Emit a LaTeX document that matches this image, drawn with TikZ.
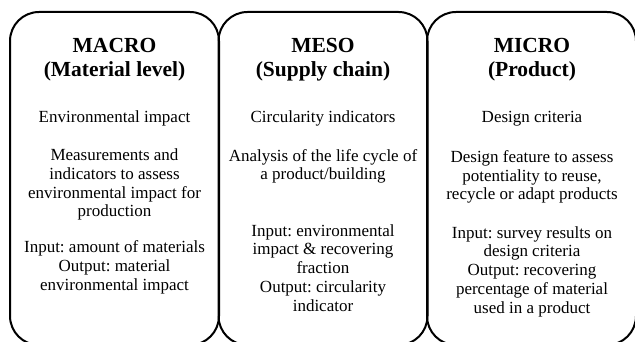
\documentclass[tikz,border=0pt]{standalone}
\usepackage{fontspec}
\setmainfont{Liberation Serif}
\usetikzlibrary{positioning}
\frenchspacing
\tikzset{
  levelbox/.style={
    rectangle, rounded corners=29pt, draw=black, line width=2pt,
    minimum width=209pt, minimum height=333pt, inner sep=0pt
  },
  % base of a multi-line node = baseline of its last line
  leveltitle/.style={
    align=center, anchor=base, inner sep=0pt,
    font=\fontsize{21.5}{24}\selectfont\bfseries
  },
  leveltext/.style={
    align=center, anchor=base, inner sep=0pt,
    font=\fontsize{17}{18.7}\selectfont
  }
}

\begin{document}
\begin{tikzpicture}[x=1pt, y=-1pt]
  \clip (0,0) rectangle (635,342);
  % the three levels, side by side
  \node[levelbox] (macro) at (114.5,178.5) {};
  \node[levelbox] (meso)  at (323,178.5) {};
  \node[levelbox] (micro) at (531.5,178.5) {};

  % macro level
  \node[leveltitle] (macro_title) at (114.5,77) {MACRO\\(Material level)};
  \node[leveltext] (macro_focus) at (114.5,123) {Environmental impact};
  \node[leveltext] (macro_desc) at (114.5,217)
    {Measurements and\\indicators to assess\\environmental impact for\\production};
  \node[leveltext] (macro_io) at (114.5,290)
    {Input: amount of materials\\Output: material\\environmental impact};

  % meso level
  \node[leveltitle] (meso_title) at (323,77) {MESO\\(Supply chain)};
  \node[leveltext] (meso_focus) at (323,123) {Circularity indicators};
  \node[leveltext] (meso_desc) at (323,180)
    {Analysis of the life cycle of\\a product/building};
  \node[leveltext] (meso_io) at (323,311)
    {Input: environmental\\impact \& recovering\\fraction\\Output: circularity\\indicator};

  % micro level
  \node[leveltitle] (micro_title) at (532,77) {MICRO\\(Product)};
  \node[leveltext] (micro_focus) at (532,123) {Design criteria};
  \node[leveltext] (micro_desc) at (532,200)
    {Design feature to assess\\potentiality to reuse,\\recycle or adapt products};
  \node[leveltext] (micro_io) at (532,313)
    {Input: survey results on\\design criteria\\Output: recovering\\percentage of material\\used in a product};
\end{tikzpicture}
\end{document}
